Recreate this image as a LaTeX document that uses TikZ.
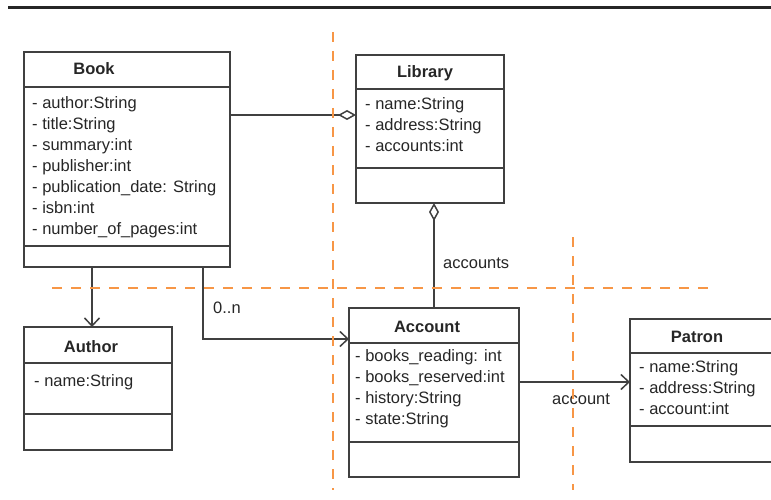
\documentclass[tikz,border=0pt]{standalone}
\usepackage{fontspec}
\setmainfont{Liberation Sans}
\usetikzlibrary{arrows.meta,positioning}
\definecolor{cutorange}{RGB}{247,150,70}
\definecolor{umlgray}{RGB}{64,64,64}

\begin{document}
\begin{tikzpicture}[x=1pt,y=-1pt,
				box/.style={draw=umlgray,line width=1.6pt,anchor=north west,inner sep=0pt,outer sep=0pt},
				cname/.style={anchor=base,inner sep=0pt,font=\fontsize{16.5}{20}\selectfont\bfseries,text=black!85},
				attrs/.style={anchor=base west,align=left,inner sep=0pt,font=\fontsize{16.5}{21}\selectfont,text=black!85},
				lbl/.style={anchor=base west,inner sep=0pt,font=\fontsize{16.5}{20}\selectfont,text=black!85},
				conn/.style={draw=umlgray,line width=1.5pt},
				assoc/.style={conn,-{Straight Barb[length=8pt,width=15pt]}},
				aggr/.style={conn,{Diamond[open,length=18pt,width=10pt]}-},
				cut/.style={draw=cutorange,line width=2.5pt,dash pattern=on 10pt off 9pt}]
			\clip (0,0) rectangle (771,500);
			\draw [black!85,line width=2.5pt] (8,7.5) -- (771,7.5);
			\node [box,minimum width=206pt,minimum height=35pt] (book) at (24,52) {};
			\node [box,minimum width=206pt,minimum height=159pt] (book attr) at (book.south west) {};
			\node [box,minimum width=206pt,minimum height=21pt] (book ops) at (book attr.south west) {};
			\node [cname] (book name) at (94,75) {Book};
			\node [attrs] (book list) at (32,234) {- author:String\\- title:String\\- summary:int\\- publisher:int\\- publication\_date: String\\- isbn:int\\- number\_of\_pages:int};
			\node [box,minimum width=148pt,minimum height=34pt] (library) at (356,55) {};
			\node [box,minimum width=148pt,minimum height=79pt] (library attr) at (library.south west) {};
			\node [box,minimum width=148pt,minimum height=35pt] (library ops) at (library attr.south west) {};
			\node [cname] (library name) at (425,78) {Library};
			\node [attrs] (library list) at (365,152) {- name:String\\- address:String\\- accounts:int};
			\node [box,minimum width=148pt,minimum height=36pt] (author) at (24,327) {};
			\node [box,minimum width=148pt,minimum height=51pt] (author attr) at (author.south west) {};
			\node [box,minimum width=148pt,minimum height=36pt] (author ops) at (author attr.south west) {};
			\node [cname] (author name) at (91,352) {Author};
			\node [attrs] (author list) at (34,386) {- name:String};
			\node [box,minimum width=170pt,minimum height=35pt] (account) at (349,308) {};
			\node [box,minimum width=170pt,minimum height=99pt] (account attr) at (account.south west) {};
			\node [box,minimum width=170pt,minimum height=35pt] (account ops) at (account attr.south west) {};
			\node [cname] (account name) at (427,332) {Account};
			\node [attrs] (account list) at (355,424) {- books\_reading: int\\- books\_reserved:int\\- history:String\\- state:String};
			\node [box,minimum width=150pt,minimum height=34pt] (patron) at (630,319) {};
			\node [box,minimum width=150pt,minimum height=73pt] (patron attr) at (patron.south west) {};
			\node [box,minimum width=150pt,minimum height=36pt] (patron ops) at (patron attr.south west) {};
			\node [cname] (patron name) at (697,342) {Patron};
			\node [attrs] (patron list) at (639,414) {- name:String\\- address:String\\- account:int};
			\coordinate (lib in) at ([yshift=-26pt]library attr.north west);
			\coordinate (acc in) at ([yshift=4pt]account.south west);
			\coordinate (acc out) at ([yshift=10.5pt]account attr.east);
			\draw [aggr] (lib in) -- (lib in -| book attr.east);
			\draw [aggr] (library ops.south -| account.north) -- (account.north);
			\draw [assoc] ([xshift=68pt]book ops.south west) -- ([xshift=68pt]author.north west);
			\draw [assoc] ([xshift=-27pt]book ops.south east) |- (acc in);
			\draw [assoc] (acc out) -- (acc out -| patron attr.west);
			\node [lbl] (n lbl) at (213,313) {0..n};
			\node [lbl] (accounts lbl) at (443,268) {accounts};
			\node [lbl] (account lbl) at (552,404) {account};
			\draw [cut] (333,32) -- (333,490);
			\draw [cut] (52,288) -- (717,288);
			\draw [cut] (573,237) -- (573,490);
		\end{tikzpicture}
\end{document}
